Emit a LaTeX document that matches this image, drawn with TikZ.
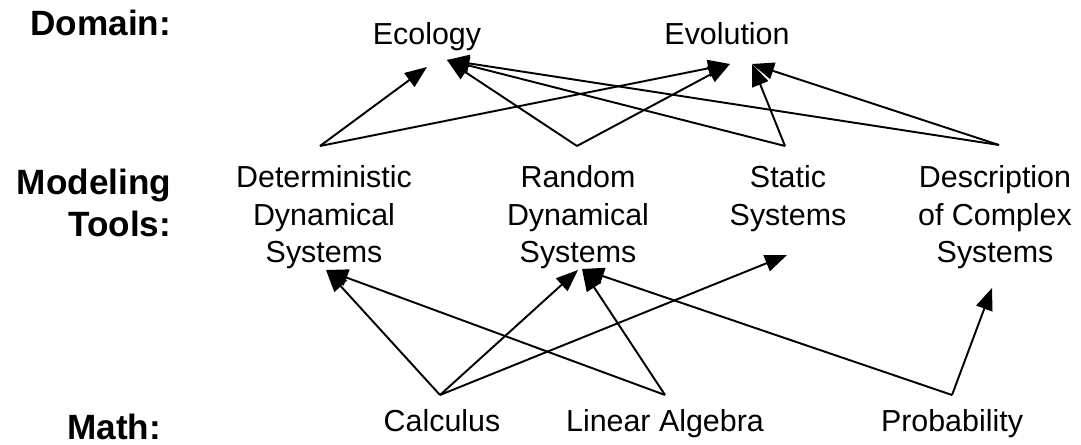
\documentclass[tikz,border=0pt]{standalone}
\usepackage{fontspec}
\setmainfont{Liberation Sans}
\usepackage{tikz}
\usetikzlibrary{arrows.meta}

\begin{document}
\begin{tikzpicture}[>={Triangle[length=0.44cm,width=0.34cm]},line width=1.1pt,
  item/.style={inner sep=0pt,align=center,font=\fontsize{17.3}{21.3}\selectfont},
  lvl/.style={inner sep=0pt,align=right,font=\fontsize{20}{23.8}\selectfont\bfseries}]
\useasboundingbox (0,0) rectangle (21.62,8.9);
% level labels
\node[lvl,anchor=base east] (ldom) at (3.44,8.18) {Domain:};
\node[lvl,anchor=north east] (ltool) at (3.44,5.54) {Modeling\\Tools:};
\node[lvl,anchor=base east] (lmath) at (3.24,0.1) {Math:};
% domain
\node[item,anchor=base] (eco) at (8.54,8.0) {Ecology};
\node[item,anchor=base] (evo) at (14.54,8.0) {Evolution};
% modeling tools
\node[item,anchor=north] (det) at (6.48,5.6) {Deterministic\\Dynamical\\Systems};
\node[item,anchor=north] (ran) at (11.56,5.6) {Random\\Dynamical\\Systems};
\node[item,anchor=north] (sta) at (15.76,5.6) {Static\\Systems};
\node[item,anchor=north] (des) at (19.9,5.6) {Description\\of Complex\\Systems};
% math
\node[item,anchor=base] (cal) at (8.84,0.26) {Calculus};
\node[item,anchor=base] (lin) at (13.3,0.26) {Linear Algebra};
\node[item,anchor=base] (pro) at (19.04,0.26) {Probability};
% ports
\coordinate (eco1) at (8.54,7.56);
\coordinate (eco2) at (8.94,7.70);
\coordinate (evo1) at (14.60,7.62);
\coordinate (evo2) at (15.04,7.62);
\coordinate (detT) at (6.40,5.98);
\coordinate (ranT) at (11.54,5.98);
\coordinate (staT) at (15.70,5.98);
\coordinate (desT) at (19.98,6.0);
\coordinate (detB) at (6.52,3.5);
\coordinate (ranB1) at (11.56,3.5);
\coordinate (ranB2) at (11.64,3.52);
\coordinate (staB) at (15.74,3.8);
\coordinate (desB) at (19.84,3.14);
\coordinate (calT) at (8.8,1.0);
\coordinate (linT) at (13.3,1.0);
\coordinate (proT) at (19.04,1.0);
% tools -> domain
\draw[->] (detT) -- (eco1);
\draw[->] (detT) -- (evo1);
\draw[->] (ranT) -- (eco2);
\draw[->] (ranT) -- (evo1);
\draw[->] (staT) -- (eco2);
\draw[->] (staT) -- (evo2);
\draw[->] (desT) -- (eco2);
\draw[->] (desT) -- (evo2);
% math -> tools
\draw[->] (calT) -- (detB);
\draw[->] (calT) -- (ranB1);
\draw[->] (calT) -- (staB);
\draw[->] (linT) -- (detB);
\draw[->] (linT) -- (ranB2);
\draw[->] (proT) -- (ranB2);
\draw[->] (proT) -- (desB);
\end{tikzpicture}
\end{document}
